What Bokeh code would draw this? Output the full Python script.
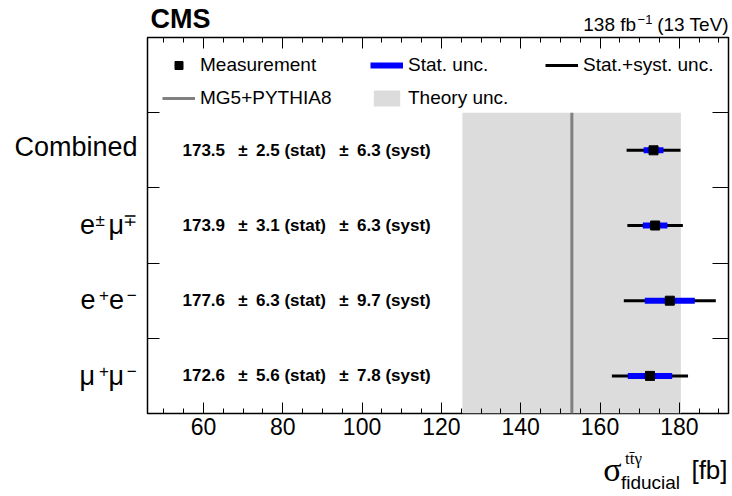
from bokeh.plotting import figure
from bokeh.models import (Range1d, LinearAxis, FixedTicker, Legend, LegendItem,
                          ColumnDataSource)
from bokeh.core.properties import value
from bokeh.embed import file_html
from bokeh.resources import INLINE

# ---------------- data ----------------
categories = ["Combined", "e±μ∓", "e+e−", "μ+μ−"]          # top to bottom
measured = [173.5, 173.9, 177.6, 172.6]
stat_unc = [2.5, 3.1, 6.3, 5.6]
syst_unc = [6.3, 6.3, 9.7, 7.8]
total_unc = [6.8, 7.0, 11.6, 9.6]
theory_value = 152.9
theory_low = 125.3
theory_high = 180.4
x_ticks = [60, 80, 100, 120, 140, 160, 180]
x_lo, x_hi = 45.9, 192.4

# category label pieces: (text, superscript?)
category_pieces = [
    [("Combined", False)],
    [("e", False), ("±", True), ("μ", False), ("∓", True)],
    [("e", False), ("+", True), ("e", False), ("−", True)],
    [("μ", False), ("+", True), ("μ", False), ("−", True)],
]

FONT = "Liberation Sans"
SERIF = "Liberation Serif"
NBSP = "\u00a0"
ENSP = "\u2002"
EM = {"e": 0.556, "μ": 0.576, "±": 0.549, "∓": 0.549, "+": 0.584, "−": 0.584,
      NBSP: 0.278, ENSP: 0.555}
ASC = {FONT: 0.905, SERIF: 0.891}
DESC = {FONT: 0.212, SERIF: 0.216}

# canvas geometry (px)
W, H = 730, 495
FL, FR, FT, FB = 147, 728, 36, 419

n = len(categories)
centers = [n - i - 0.5 for i in range(n)]

p = figure(width=W, height=H,
           x_range=Range1d(x_lo, x_hi), y_range=Range1d(0, n + 1),
           output_backend="svg", toolbar_location=None,
           min_border_left=FL, min_border_right=W - FR,
           min_border_top=FT, min_border_bottom=H - FB)
p.grid.visible = False
p.outline_line_color = "black"
p.outline_line_width = 1.5
p.background_fill_color = "white"
p.border_fill_color = "white"

xs_per_px = (x_hi - x_lo) / (FR - FL)
ys_per_px = (n + 1) / (FB - FT)


def px_to_x(px):
    return x_lo + (px - FL) * xs_per_px


# theory band and line
band_src = ColumnDataSource(dict(left=[theory_low], right=[theory_high],
                                 bottom=[0], top=[n]))
r_band = p.quad(left="left", right="right", bottom="bottom", top="top",
                source=band_src, fill_color="#dcdcdc", line_color=None)
th_src = ColumnDataSource(dict(x0=[theory_value], x1=[theory_value], y0=[0], y1=[n]))
r_th = p.segment(x0="x0", x1="x1", y0="y0", y1="y1", source=th_src,
                 line_color="#808080", line_width=3)

PM = " \u2002\u00b1\u2002"
src = ColumnDataSource(dict(
    y=centers, m=measured,
    tot_lo=[m - t for m, t in zip(measured, total_unc)],
    tot_hi=[m + t for m, t in zip(measured, total_unc)],
    st_lo=[m - s for m, s in zip(measured, stat_unc)],
    st_hi=[m + s for m, s in zip(measured, stat_unc)],
    txt=[f"{m:.1f}{PM}{s:.1f} (stat){PM}{y:.1f} (syst)"
         for m, s, y in zip(measured, stat_unc, syst_unc)],
    xs=[x_lo] * n,
))
r_tot = p.segment(x0="tot_lo", x1="tot_hi", y0="y", y1="y", source=src,
                  line_color="black", line_width=3)
r_stat = p.segment(x0="st_lo", x1="st_hi", y0="y", y1="y", source=src,
                   line_color="#0000ff", line_width=6)
r_pt = p.scatter(x="m", y="y", source=src, marker="square", size=9,
                 fill_color="black", line_color="black")

p.text(x="xs", y="y", text="txt", source=src, x_offset=35,
       text_font=value(FONT), text_font_style="bold", text_font_size="17px",
       text_baseline="middle", text_align="left", text_color="black")

# ---------------- frame axes (ticks) ----------------
minor = [v for v in range(50, 195, 5) if v not in x_ticks]
xa = p.xaxis[0]
xa.ticker = FixedTicker(ticks=x_ticks, minor_ticks=minor)
xa.major_label_text_font = FONT
xa.major_label_text_font_size = "23px"
xa.major_label_text_color = "black"
XSTAND = 4
xa.major_label_standoff = XSTAND
top = LinearAxis(ticker=FixedTicker(ticks=x_ticks, minor_ticks=minor),
                 major_label_text_font_size="0px", major_label_standoff=0,
                 major_label_overrides={t: "" for t in x_ticks})
for ax in (xa, top):
    ax.major_tick_in = 11
    ax.major_tick_out = 0
    ax.minor_tick_in = 5
    ax.minor_tick_out = 0
    ax.axis_line_color = None
    ax.major_tick_line_color = "black"
    ax.minor_tick_line_color = "black"
p.add_layout(top, "above")

y_ticks = list(range(1, n + 1))
ya = p.yaxis[0]
ya.ticker = FixedTicker(ticks=y_ticks)
right = LinearAxis(ticker=FixedTicker(ticks=y_ticks))
for ax, L in ((ya, 12), (right, 16)):
    ax.major_tick_in = L
    ax.major_tick_out = 0
    ax.minor_tick_in = 0
    ax.minor_tick_out = 0
    ax.axis_line_color = None
    ax.major_tick_line_color = "black"
    ax.major_label_text_font_size = "0px"
    ax.major_label_standoff = 0
    ax.major_label_overrides = {t: "" for t in y_ticks}
p.add_layout(right, "right")


def text_axis(ticks, labels, size, font=FONT, style="normal", standoff=0):
    return LinearAxis(ticker=FixedTicker(ticks=ticks),
                      major_label_overrides=dict(zip(ticks, labels)),
                      major_label_standoff=int(round(standoff)),
                      major_label_text_font=font,
                      major_label_text_font_size=f"{size}px",
                      major_label_text_font_style=style,
                      major_label_text_color="black",
                      axis_line_color=None, major_tick_line_color=None,
                      minor_tick_line_color=None,
                      major_tick_in=0, major_tick_out=0,
                      minor_tick_in=0, minor_tick_out=0)


def fill(gap, size):
    best = ("", 0.0, abs(gap))
    for a in range(0, 7):
        for b in range(0, 4):
            w = (a * EM[ENSP] + b * EM[NBSP]) * size
            if abs(w - gap) < best[2] - 1e-9:
                best = (ENSP * a + NBSP * b, w, abs(w - gap))
    return best[0], best[1]


# ---------------- category labels (left) ----------------
BASE, SUP = 27, 17
GAP = 10                      # distance of labels from frame
SUP_FIX = 7                   # measured correction of the stacked axis offset
base_labels, sup_labels, base_ticks, sup_ticks = [], [], [], []
for yc, pieces in zip(centers, category_pieces):
    has_sup = any(s for _, s in pieces)
    bstr, cursor, sups = "", 0.0, []
    for txt, sup in reversed(pieces):
        if sup:
            slot = EM[ENSP] * BASE
            w = EM[txt] * SUP
            sups.append((txt, cursor + slot - 1 - w, w))
            bstr = ENSP + bstr
            cursor += slot
        else:
            bstr = txt + bstr
            cursor += sum(EM.get(c, 0.556) for c in txt) * BASE
    sstr, pos = "", 0.0
    for ch, r, w in sups:
        g, gw = fill(r - pos, SUP)
        sstr = ch + g + sstr
        pos += gw + w
    base_base = 9 if has_sup else 6      # baseline below row centre (px)
    base_tick_px = base_base - (ASC[FONT] - DESC[FONT]) / 2 * BASE
    base_ticks.append(yc - base_tick_px * ys_per_px)
    base_labels.append(bstr)
    if sups:
        sup_base = base_base - 8
        sup_tick_px = sup_base - (ASC[FONT] - DESC[FONT]) / 2 * SUP
        sup_ticks.append(yc - sup_tick_px * ys_per_px)
        sup_labels.append(sstr)

combined_w = 4.557 * BASE
p.add_layout(text_axis(base_ticks, base_labels, BASE, standoff=GAP), "left")
p.add_layout(text_axis(sup_ticks, sup_labels, SUP,
                       standoff=-combined_w - SUP_FIX), "left")

# ---------------- header (above) ----------------
LS = 19
lumi_base = "138 fb" + NBSP * 4 + "(13 TeV)"
lumi_w = (2.78 + 4 * 0.278 + 3.723) * LS
fb_end = FR - lumi_w + 2.78 * LS
header = [  # (text, size, style, baseline_px, center_px)
    (lumi_base, LS, "normal", 29, FR - lumi_w / 2),
    ("\u22121", 13, "normal", 22, fb_end + 1 + 7.4),
    ("CMS", 27, "bold", 28, 150 + 2.222 * 27 / 2),
]
S = FT
for txt, size, style, base, cx in header:
    bottom = base + DESC[FONT] * size
    topp = base - ASC[FONT] * size
    p.add_layout(text_axis([px_to_x(cx)], [txt], size, style=style,
                           standoff=S - bottom), "above")
    S = topp

# ---------------- x-axis title (below) ----------------
S = FB + XSTAND + (ASC[FONT] + DESC[FONT]) * 23
title_parts = [  # (text, size, font, baseline_px, center_px) ordered by bottom
    ("tt\u0304γ", 17, SERIF, 475, 633),
    ("[fb]", 26, FONT, 486, 709),
    ("σ", 34, SERIF, 485, 612),
    ("fiducial", 19, FONT, 491, 650),
]
for txt, size, font, base, cx in title_parts:
    topp = base - ASC[font] * size
    bottom = base + DESC[font] * size
    p.add_layout(text_axis([px_to_x(cx)], [txt], size, font=font,
                           standoff=topp - S), "below")
    S = bottom

# ---------------- legends ----------------
def make_legend(items, loc):
    lg = Legend(items=items, location=loc, orientation="vertical",
                glyph_width=33, glyph_height=20, label_height=22,
                label_standoff=5, spacing=11, padding=0, margin=0,
                border_line_color=None, background_fill_alpha=0,
                label_text_font=FONT, label_text_font_size="19px",
                label_text_color="black")
    p.add_layout(lg, "center")

make_legend([LegendItem(label="Measurement", renderers=[r_pt]),
             LegendItem(label="MG5+PYTHIA8", renderers=[r_th])], (15, 304))
make_legend([LegendItem(label="Stat. unc.", renderers=[r_stat]),
             LegendItem(label="Theory unc.", renderers=[r_band])], (223, 304))
make_legend([LegendItem(label="Stat.+syst. unc.", renderers=[r_tot])], (398, 337))

open("out.html", "w").write(file_html(p, INLINE))
